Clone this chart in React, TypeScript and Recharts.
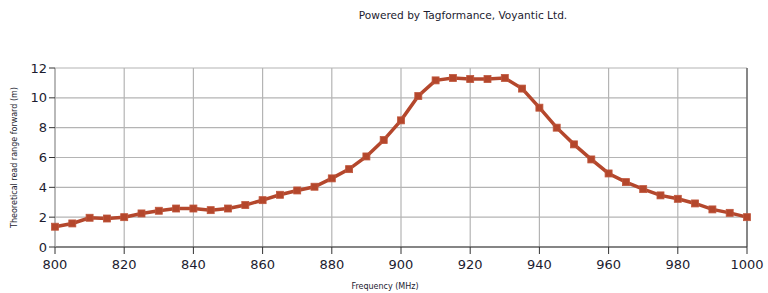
import React from 'react';
import { LineChart, Line, XAxis, YAxis, CartesianGrid, ReferenceLine } from 'recharts';

const frequencies = [800, 805, 810, 815, 820, 825, 830, 835, 840, 845, 850, 855, 860, 865, 870, 875, 880, 885, 890, 895, 900, 905, 910, 915, 920, 925, 930, 935, 940, 945, 950, 955, 960, 965, 970, 975, 980, 985, 990, 995, 1000];
const readRange = [1.36, 1.58, 1.96, 1.91, 2.0, 2.25, 2.43, 2.58, 2.58, 2.47, 2.58, 2.81, 3.14, 3.5, 3.79, 4.04, 4.6, 5.22, 6.07, 7.17, 8.49, 10.12, 11.17, 11.33, 11.26, 11.26, 11.33, 10.62, 9.34, 8.0, 6.88, 5.87, 4.93, 4.35, 3.88, 3.46, 3.23, 2.92, 2.52, 2.29, 2.0];
const xTicks = [800, 820, 840, 860, 880, 900, 920, 940, 960, 980, 1000];
const yTicks = [0, 2, 4, 6, 8, 10, 12];

const data = frequencies.map((f, i) => ({ f, v: readRange[i] }));

const LINE = '#b4472c';
const FONT = 'DejaVu Sans, sans-serif';
const TICK = { fill: '#1c1c30', fontSize: 13, fontFamily: FONT };

const SquareDot = (props: any) => {
  const { cx, cy } = props;
  if (cx == null || cy == null) return null;
  return <rect x={cx - 3.5} y={cy - 3.5} width={7} height={7} fill={LINE} stroke="#c0573d" strokeWidth={0.8} />;
};

export default function App() {
  return (
    <div style={{ position: 'absolute', left: 0, top: 0, width: 768, height: 293, background: '#fff' }}>
      <div style={{ position: 'absolute', left: 0, width: 768, top: 9, textAlign: 'center', paddingLeft: 158, boxSizing: 'border-box', fontFamily: FONT, fontSize: 10.6, color: '#1c1c30' }}>
        Powered by Tagformance, Voyantic Ltd.
      </div>
      <LineChart width={768} height={293} data={data} margin={{ top: 68, right: 21, bottom: 0, left: 0 }}>
        <CartesianGrid stroke="#b4b4b4" strokeWidth={1.2} />
        <XAxis
          dataKey="f"
          type="number"
          domain={[800, 1000]}
          ticks={xTicks}
          height={46}
          tick={TICK}
          tickSize={7}
          tickMargin={6}
          axisLine={{ stroke: '#333', strokeWidth: 1.2 }}
          tickLine={{ stroke: '#333' }}
          label={{ value: 'Frequency (MHz)', position: 'insideBottom', offset: 4, fontSize: 8, fontFamily: FONT, fill: '#1c1c30', dx: -16 }}
        />
        <YAxis
          type="number"
          domain={[0, 12]}
          ticks={yTicks}
          width={55}
          tick={TICK}
          tickSize={6}
          tickMargin={2}
          axisLine={{ stroke: '#a8a8a8', strokeWidth: 1.2 }}
          tickLine={{ stroke: '#333' }}
          label={{ value: 'Theoretical read range forward (m)', angle: -90, position: 'insideLeft', offset: 14, fontSize: 8, fontFamily: FONT, fill: '#1c1c30', style: { textAnchor: 'middle' } }}
        />
        <ReferenceLine x={1000} stroke="#555" strokeWidth={1.2} />
        <Line type="linear" dataKey="v" stroke={LINE} strokeWidth={3.5} dot={<SquareDot />} isAnimationActive={false} />
      </LineChart>
    </div>
  );
}
